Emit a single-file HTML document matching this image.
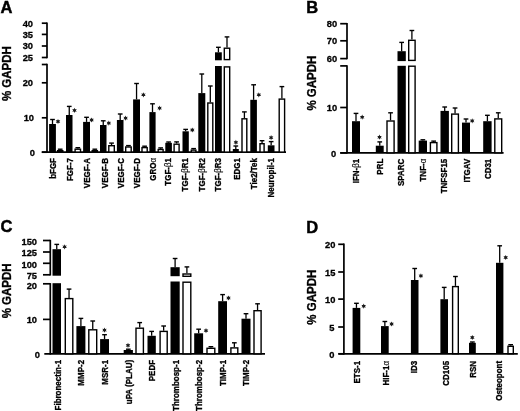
<!DOCTYPE html>
<html><head><meta charset="utf-8"><style>
html,body{margin:0;padding:0;background:#fff;width:520px;height:411px;overflow:hidden}
svg{display:block;filter:grayscale(100%)}
text{font-family:"Liberation Sans", sans-serif;fill:#000;stroke:#000;stroke-width:0.3px;paint-order:stroke}
line{stroke:#000}
</style></head><body>
<svg width="520" height="411" viewBox="0 0 520 411">
<rect width="520" height="411" fill="#fff"/>
<text x="0.40" y="13.20" font-size="16.5" text-anchor="start" font-weight="bold" style="stroke-width:0.45px">A</text>
<text transform="translate(11.30,73.60) rotate(-90) scale(1,1.12)" font-size="11.5" text-anchor="middle" font-weight="bold" >% GAPDH</text>
<line x1="47.00" y1="22.50" x2="47.00" y2="58.20" stroke-width="1.7"/>
<line x1="47.00" y1="63.80" x2="47.00" y2="152.90" stroke-width="1.7"/>
<line x1="41.80" y1="23.20" x2="47.00" y2="23.20" stroke-width="1.7"/>
<line x1="41.80" y1="34.40" x2="47.00" y2="34.40" stroke-width="1.7"/>
<line x1="41.80" y1="46.00" x2="47.00" y2="46.00" stroke-width="1.7"/>
<line x1="41.80" y1="57.50" x2="47.00" y2="57.50" stroke-width="1.7"/>
<line x1="41.80" y1="64.50" x2="47.00" y2="64.50" stroke-width="1.7"/>
<line x1="41.80" y1="82.80" x2="47.00" y2="82.80" stroke-width="1.7"/>
<line x1="41.80" y1="117.80" x2="47.00" y2="117.80" stroke-width="1.7"/>
<line x1="41.80" y1="152.20" x2="47.00" y2="152.20" stroke-width="1.7"/>
<line x1="41.80" y1="152.20" x2="286.00" y2="152.20" stroke-width="1.7"/>
<text x="33.00" y="26.55" font-size="9.3" text-anchor="end" font-weight="bold" >40</text>
<text x="33.00" y="37.75" font-size="9.3" text-anchor="end" font-weight="bold" >35</text>
<text x="33.00" y="49.35" font-size="9.3" text-anchor="end" font-weight="bold" >30</text>
<text x="33.00" y="60.85" font-size="9.3" text-anchor="end" font-weight="bold" >25</text>
<text x="33.00" y="86.35" font-size="9.3" text-anchor="end" font-weight="bold" >20</text>
<text x="34.00" y="121.15" font-size="9.3" text-anchor="end" font-weight="bold" >10</text>
<text x="34.80" y="155.55" font-size="9.3" text-anchor="end" font-weight="bold" >0</text>
<line x1="52.50" y1="119.50" x2="52.50" y2="124.00" stroke-width="1.3"/>
<line x1="50.15" y1="119.50" x2="54.85" y2="119.50" stroke-width="1.4"/>
<rect x="49.10" y="124.00" width="6.80" height="28.20" fill="#000"/>
<line x1="60.20" y1="149.20" x2="60.20" y2="150.00" stroke-width="1.3"/>
<line x1="57.85" y1="149.20" x2="62.55" y2="149.20" stroke-width="1.4"/>
<rect x="57.60" y="150.70" width="5.20" height="1.40" fill="#fff" stroke="#000" stroke-width="1.4"/>
<polygon points="58.00,118.90 58.65,120.37 60.25,120.20 59.30,121.50 60.25,122.80 58.65,122.63 58.00,124.10 57.35,122.63 55.75,122.80 56.70,121.50 55.75,120.20 57.35,120.37" fill="#1a1a1a"/>
<text transform="translate(56.22,158.00) rotate(-90) scale(1,1.1)" font-size="8.0" text-anchor="end" font-weight="bold" >bFGF</text>
<line x1="69.25" y1="106.40" x2="69.25" y2="115.00" stroke-width="1.3"/>
<line x1="66.90" y1="106.40" x2="71.60" y2="106.40" stroke-width="1.4"/>
<rect x="66.00" y="115.00" width="6.50" height="37.20" fill="#000"/>
<line x1="77.80" y1="147.70" x2="77.80" y2="148.50" stroke-width="1.3"/>
<line x1="75.45" y1="147.70" x2="80.15" y2="147.70" stroke-width="1.4"/>
<rect x="75.10" y="149.20" width="5.40" height="2.90" fill="#fff" stroke="#000" stroke-width="1.4"/>
<polygon points="74.50,107.80 75.15,109.27 76.75,109.10 75.80,110.40 76.75,111.70 75.15,111.53 74.50,113.00 73.85,111.53 72.25,111.70 73.20,110.40 72.25,109.10 73.85,109.27" fill="#1a1a1a"/>
<text transform="translate(72.92,158.00) rotate(-90) scale(1,1.1)" font-size="8.0" text-anchor="end" font-weight="bold" >FGF-7</text>
<line x1="86.55" y1="117.30" x2="86.55" y2="121.90" stroke-width="1.3"/>
<line x1="84.20" y1="117.30" x2="88.90" y2="117.30" stroke-width="1.4"/>
<rect x="83.10" y="121.90" width="6.90" height="30.30" fill="#000"/>
<line x1="94.80" y1="149.20" x2="94.80" y2="150.00" stroke-width="1.3"/>
<line x1="92.45" y1="149.20" x2="97.15" y2="149.20" stroke-width="1.4"/>
<rect x="92.20" y="150.70" width="5.20" height="1.40" fill="#fff" stroke="#000" stroke-width="1.4"/>
<polygon points="91.60,117.40 92.25,118.87 93.85,118.70 92.90,120.00 93.85,121.30 92.25,121.13 91.60,122.60 90.95,121.13 89.35,121.30 90.30,120.00 89.35,118.70 90.95,118.87" fill="#1a1a1a"/>
<text transform="translate(90.32,158.00) rotate(-90) scale(1,1.1)" font-size="8.0" text-anchor="end" font-weight="bold" >VEGF-A</text>
<line x1="103.25" y1="120.80" x2="103.25" y2="125.00" stroke-width="1.3"/>
<line x1="100.90" y1="120.80" x2="105.60" y2="120.80" stroke-width="1.4"/>
<rect x="100.00" y="125.00" width="6.50" height="27.20" fill="#000"/>
<line x1="111.55" y1="143.10" x2="111.55" y2="145.00" stroke-width="1.3"/>
<line x1="109.20" y1="143.10" x2="113.90" y2="143.10" stroke-width="1.4"/>
<rect x="108.80" y="145.70" width="5.50" height="6.40" fill="#fff" stroke="#000" stroke-width="1.4"/>
<polygon points="108.80,120.50 109.45,121.97 111.05,121.80 110.10,123.10 111.05,124.40 109.45,124.23 108.80,125.70 108.15,124.23 106.55,124.40 107.50,123.10 106.55,121.80 108.15,121.97" fill="#1a1a1a"/>
<text transform="translate(107.57,158.00) rotate(-90) scale(1,1.1)" font-size="8.0" text-anchor="end" font-weight="bold" >VEGF-B</text>
<line x1="120.20" y1="114.00" x2="120.20" y2="120.00" stroke-width="1.3"/>
<line x1="117.85" y1="114.00" x2="122.55" y2="114.00" stroke-width="1.4"/>
<rect x="116.90" y="120.00" width="6.60" height="32.20" fill="#000"/>
<line x1="128.45" y1="145.60" x2="128.45" y2="146.30" stroke-width="1.3"/>
<line x1="126.10" y1="145.60" x2="130.80" y2="145.60" stroke-width="1.4"/>
<rect x="125.70" y="147.00" width="5.50" height="5.10" fill="#fff" stroke="#000" stroke-width="1.4"/>
<polygon points="125.60,115.50 126.25,116.97 127.85,116.80 126.90,118.10 127.85,119.40 126.25,119.23 125.60,120.70 124.95,119.23 123.35,119.40 124.30,118.10 123.35,116.80 124.95,116.97" fill="#1a1a1a"/>
<text transform="translate(123.77,158.00) rotate(-90) scale(1,1.1)" font-size="8.0" text-anchor="end" font-weight="bold" >VEGF-C</text>
<line x1="136.55" y1="83.50" x2="136.55" y2="99.40" stroke-width="1.3"/>
<line x1="134.20" y1="83.50" x2="138.90" y2="83.50" stroke-width="1.4"/>
<rect x="133.10" y="99.40" width="6.90" height="52.80" fill="#000"/>
<line x1="144.60" y1="146.20" x2="144.60" y2="146.90" stroke-width="1.3"/>
<line x1="142.25" y1="146.20" x2="146.95" y2="146.20" stroke-width="1.4"/>
<rect x="142.00" y="147.60" width="5.20" height="4.50" fill="#fff" stroke="#000" stroke-width="1.4"/>
<polygon points="143.40,92.20 144.05,93.67 145.65,93.50 144.70,94.80 145.65,96.10 144.05,95.93 143.40,97.40 142.75,95.93 141.15,96.10 142.10,94.80 141.15,93.50 142.75,93.67" fill="#1a1a1a"/>
<text transform="translate(139.92,158.00) rotate(-90) scale(1,1.1)" font-size="8.0" text-anchor="end" font-weight="bold" >VEGF-D</text>
<line x1="152.50" y1="103.80" x2="152.50" y2="112.10" stroke-width="1.3"/>
<line x1="150.15" y1="103.80" x2="154.85" y2="103.80" stroke-width="1.4"/>
<rect x="149.40" y="112.10" width="6.20" height="40.10" fill="#000"/>
<line x1="160.65" y1="147.90" x2="160.65" y2="148.80" stroke-width="1.3"/>
<line x1="158.30" y1="147.90" x2="163.00" y2="147.90" stroke-width="1.4"/>
<rect x="158.20" y="149.50" width="4.90" height="2.60" fill="#fff" stroke="#000" stroke-width="1.4"/>
<polygon points="159.60,105.50 160.25,106.97 161.85,106.80 160.90,108.10 161.85,109.40 160.25,109.23 159.60,110.70 158.95,109.23 157.35,109.40 158.30,108.10 157.35,106.80 158.95,106.97" fill="#1a1a1a"/>
<text transform="translate(156.32,158.00) rotate(-90) scale(1,1.1)" font-size="8.0" text-anchor="end" font-weight="bold" >GRO<tspan font-weight="normal" style="stroke-width:0.15px">α</tspan></text>
<line x1="168.60" y1="142.00" x2="168.60" y2="142.80" stroke-width="1.3"/>
<line x1="166.25" y1="142.00" x2="170.95" y2="142.00" stroke-width="1.4"/>
<rect x="165.30" y="142.80" width="6.60" height="9.40" fill="#000"/>
<line x1="176.60" y1="141.90" x2="176.60" y2="143.50" stroke-width="1.3"/>
<line x1="174.25" y1="141.90" x2="178.95" y2="141.90" stroke-width="1.4"/>
<rect x="174.10" y="144.20" width="5.00" height="7.90" fill="#fff" stroke="#000" stroke-width="1.4"/>
<text transform="translate(171.28,158.00) rotate(-90) scale(1,1.1)" font-size="8.0" text-anchor="end" font-weight="bold" >TGF-<tspan font-weight="normal" style="stroke-width:0.15px">β</tspan>1</text>
<line x1="185.65" y1="129.40" x2="185.65" y2="131.30" stroke-width="1.3"/>
<line x1="183.30" y1="129.40" x2="188.00" y2="129.40" stroke-width="1.4"/>
<rect x="182.50" y="131.30" width="6.30" height="20.90" fill="#000"/>
<line x1="193.60" y1="148.60" x2="193.60" y2="149.40" stroke-width="1.3"/>
<line x1="191.25" y1="148.60" x2="195.95" y2="148.60" stroke-width="1.4"/>
<rect x="191.30" y="150.10" width="4.60" height="2.00" fill="#fff" stroke="#000" stroke-width="1.4"/>
<polygon points="192.30,127.40 192.95,128.87 194.55,128.70 193.60,130.00 194.55,131.30 192.95,131.13 192.30,132.60 191.65,131.13 190.05,131.30 191.00,130.00 190.05,128.70 191.65,128.87" fill="#1a1a1a"/>
<text transform="translate(188.48,158.00) rotate(-90) scale(1,1.1)" font-size="8.0" text-anchor="end" font-weight="bold" >TGF-<tspan font-weight="normal" style="stroke-width:0.15px">β</tspan>R1</text>
<line x1="201.80" y1="74.00" x2="201.80" y2="93.10" stroke-width="1.3"/>
<line x1="199.45" y1="74.00" x2="204.15" y2="74.00" stroke-width="1.4"/>
<rect x="198.30" y="93.10" width="7.00" height="59.10" fill="#000"/>
<line x1="210.30" y1="86.00" x2="210.30" y2="102.30" stroke-width="1.3"/>
<line x1="207.95" y1="86.00" x2="212.65" y2="86.00" stroke-width="1.4"/>
<rect x="207.80" y="103.00" width="5.00" height="49.10" fill="#fff" stroke="#000" stroke-width="1.4"/>
<text transform="translate(204.88,158.00) rotate(-90) scale(1,1.1)" font-size="8.0" text-anchor="end" font-weight="bold" >TGF-<tspan font-weight="normal" style="stroke-width:0.15px">β</tspan>R2</text>
<rect x="215.00" y="52.30" width="6.80" height="8.00" fill="#000"/>
<rect x="215.00" y="66.00" width="6.80" height="86.20" fill="#000"/>
<line x1="218.40" y1="47.30" x2="218.40" y2="52.30" stroke-width="1.3"/>
<line x1="216.05" y1="47.30" x2="220.75" y2="47.30" stroke-width="1.4"/>
<rect x="224.30" y="48.20" width="5.40" height="11.40" fill="#fff" stroke="#000" stroke-width="1.4"/>
<rect x="224.30" y="66.90" width="5.40" height="85.20" fill="#fff" stroke="#000" stroke-width="1.4"/>
<line x1="227.00" y1="36.90" x2="227.00" y2="47.50" stroke-width="1.3"/>
<line x1="224.65" y1="36.90" x2="229.35" y2="36.90" stroke-width="1.4"/>
<text transform="translate(221.38,158.00) rotate(-90) scale(1,1.1)" font-size="8.0" text-anchor="end" font-weight="bold" >TGF-<tspan font-weight="normal" style="stroke-width:0.15px">β</tspan>R3</text>
<line x1="235.80" y1="146.00" x2="235.80" y2="149.00" stroke-width="1.3"/>
<line x1="233.45" y1="146.00" x2="238.15" y2="146.00" stroke-width="1.4"/>
<rect x="232.80" y="149.00" width="6.00" height="3.20" fill="#000"/>
<line x1="244.40" y1="111.90" x2="244.40" y2="118.10" stroke-width="1.3"/>
<line x1="242.05" y1="111.90" x2="246.75" y2="111.90" stroke-width="1.4"/>
<rect x="242.00" y="118.80" width="4.80" height="33.30" fill="#fff" stroke="#000" stroke-width="1.4"/>
<polygon points="235.90,139.70 236.55,141.17 238.15,141.00 237.20,142.30 238.15,143.60 236.55,143.43 235.90,144.90 235.25,143.43 233.65,143.60 234.60,142.30 233.65,141.00 235.25,141.17" fill="#1a1a1a"/>
<text transform="translate(240.32,158.00) rotate(-90) scale(1,1.1)" font-size="8.0" text-anchor="end" font-weight="bold" >EDG1</text>
<line x1="253.60" y1="84.80" x2="253.60" y2="99.80" stroke-width="1.3"/>
<line x1="251.25" y1="84.80" x2="255.95" y2="84.80" stroke-width="1.4"/>
<rect x="250.30" y="99.80" width="6.60" height="52.40" fill="#000"/>
<line x1="262.05" y1="140.70" x2="262.05" y2="143.00" stroke-width="1.3"/>
<line x1="259.70" y1="140.70" x2="264.40" y2="140.70" stroke-width="1.4"/>
<rect x="260.00" y="143.70" width="4.10" height="8.40" fill="#fff" stroke="#000" stroke-width="1.4"/>
<polygon points="258.80,92.20 259.45,93.67 261.05,93.50 260.10,94.80 261.05,96.10 259.45,95.93 258.80,97.40 258.15,95.93 256.55,96.10 257.50,94.80 256.55,93.50 258.15,93.67" fill="#1a1a1a"/>
<text transform="translate(257.17,158.00) rotate(-90) scale(1,1.1)" font-size="8.0" text-anchor="end" font-weight="bold" >Tie2/Tek</text>
<line x1="271.15" y1="141.60" x2="271.15" y2="145.30" stroke-width="1.3"/>
<line x1="268.80" y1="141.60" x2="273.50" y2="141.60" stroke-width="1.4"/>
<rect x="267.80" y="145.30" width="6.70" height="6.90" fill="#000"/>
<line x1="281.90" y1="86.60" x2="281.90" y2="98.40" stroke-width="1.3"/>
<line x1="279.55" y1="86.60" x2="284.25" y2="86.60" stroke-width="1.4"/>
<rect x="279.20" y="99.10" width="5.40" height="53.00" fill="#fff" stroke="#000" stroke-width="1.4"/>
<polygon points="271.10,135.00 271.75,136.47 273.35,136.30 272.40,137.60 273.35,138.90 271.75,138.73 271.10,140.20 270.45,138.73 268.85,138.90 269.80,137.60 268.85,136.30 270.45,136.47" fill="#1a1a1a"/>
<text transform="translate(274.38,158.00) rotate(-90) scale(1,1.1)" font-size="8.0" text-anchor="end" font-weight="bold" >Neuropil-1</text>
<text x="306.20" y="13.30" font-size="16.5" text-anchor="start" font-weight="bold" style="stroke-width:0.45px">B</text>
<text transform="translate(315.90,83.10) rotate(-90) scale(1,1.12)" font-size="11.5" text-anchor="middle" font-weight="bold" >% GAPDH</text>
<line x1="347.00" y1="23.00" x2="347.00" y2="59.30" stroke-width="1.7"/>
<line x1="347.00" y1="65.20" x2="347.00" y2="153.60" stroke-width="1.7"/>
<line x1="340.20" y1="23.70" x2="347.00" y2="23.70" stroke-width="1.7"/>
<line x1="340.20" y1="40.80" x2="347.00" y2="40.80" stroke-width="1.7"/>
<line x1="340.20" y1="58.60" x2="347.00" y2="58.60" stroke-width="1.7"/>
<line x1="340.20" y1="65.90" x2="347.00" y2="65.90" stroke-width="1.7"/>
<line x1="340.20" y1="107.50" x2="347.00" y2="107.50" stroke-width="1.7"/>
<line x1="340.20" y1="152.90" x2="347.00" y2="152.90" stroke-width="1.7"/>
<line x1="340.30" y1="152.90" x2="503.60" y2="152.90" stroke-width="1.7"/>
<text x="337.10" y="27.05" font-size="9.3" text-anchor="end" font-weight="bold" >80</text>
<text x="337.10" y="44.15" font-size="9.3" text-anchor="end" font-weight="bold" >70</text>
<text x="337.10" y="61.95" font-size="9.3" text-anchor="end" font-weight="bold" >60</text>
<text x="337.10" y="110.85" font-size="9.3" text-anchor="end" font-weight="bold" >10</text>
<text x="336.20" y="156.65" font-size="9.3" text-anchor="end" font-weight="bold" >0</text>
<line x1="356.00" y1="113.40" x2="356.00" y2="121.20" stroke-width="1.3"/>
<line x1="353.65" y1="113.40" x2="358.35" y2="113.40" stroke-width="1.4"/>
<rect x="352.00" y="121.20" width="8.00" height="31.70" fill="#000"/>
<polygon points="362.20,114.60 362.85,116.07 364.45,115.90 363.50,117.20 364.45,118.50 362.85,118.33 362.20,119.80 361.55,118.33 359.95,118.50 360.90,117.20 359.95,115.90 361.55,116.07" fill="#1a1a1a"/>
<text transform="translate(358.73,158.70) rotate(-90) scale(1,1.1)" font-size="8.0" text-anchor="end" font-weight="bold" >IFN-<tspan font-weight="normal" style="stroke-width:0.15px">β</tspan>1</text>
<line x1="379.75" y1="141.90" x2="379.75" y2="145.70" stroke-width="1.3"/>
<line x1="377.40" y1="141.90" x2="382.10" y2="141.90" stroke-width="1.4"/>
<rect x="375.80" y="145.70" width="7.90" height="7.20" fill="#000"/>
<line x1="390.55" y1="112.80" x2="390.55" y2="120.30" stroke-width="1.3"/>
<line x1="388.20" y1="112.80" x2="392.90" y2="112.80" stroke-width="1.4"/>
<rect x="387.00" y="121.00" width="7.10" height="31.80" fill="#fff" stroke="#000" stroke-width="1.4"/>
<polygon points="379.50,134.60 380.15,136.07 381.75,135.90 380.80,137.20 381.75,138.50 380.15,138.33 379.50,139.80 378.85,138.33 377.25,138.50 378.20,137.20 377.25,135.90 378.85,136.07" fill="#1a1a1a"/>
<text transform="translate(383.07,158.70) rotate(-90) scale(1,1.1)" font-size="8.0" text-anchor="end" font-weight="bold" >PRL</text>
<rect x="397.50" y="51.20" width="8.30" height="9.90" fill="#000"/>
<rect x="397.50" y="65.80" width="8.30" height="87.10" fill="#000"/>
<line x1="401.65" y1="42.40" x2="401.65" y2="51.20" stroke-width="1.3"/>
<line x1="399.30" y1="42.40" x2="404.00" y2="42.40" stroke-width="1.4"/>
<rect x="408.70" y="40.30" width="6.40" height="20.10" fill="#fff" stroke="#000" stroke-width="1.4"/>
<rect x="408.70" y="66.20" width="6.40" height="86.60" fill="#fff" stroke="#000" stroke-width="1.4"/>
<line x1="411.90" y1="30.50" x2="411.90" y2="39.60" stroke-width="1.3"/>
<line x1="409.55" y1="30.50" x2="414.25" y2="30.50" stroke-width="1.4"/>
<text transform="translate(404.47,158.70) rotate(-90) scale(1,1.1)" font-size="8.0" text-anchor="end" font-weight="bold" >SPARC</text>
<line x1="422.85" y1="139.80" x2="422.85" y2="140.60" stroke-width="1.3"/>
<line x1="420.50" y1="139.80" x2="425.20" y2="139.80" stroke-width="1.4"/>
<rect x="418.70" y="140.60" width="8.30" height="12.30" fill="#000"/>
<line x1="433.65" y1="141.10" x2="433.65" y2="141.90" stroke-width="1.3"/>
<line x1="431.30" y1="141.10" x2="436.00" y2="141.10" stroke-width="1.4"/>
<rect x="430.40" y="142.60" width="6.50" height="10.20" fill="#fff" stroke="#000" stroke-width="1.4"/>
<text transform="translate(426.27,158.70) rotate(-90) scale(1,1.1)" font-size="8.0" text-anchor="end" font-weight="bold" >TNF-<tspan font-weight="normal" style="stroke-width:0.15px">α</tspan></text>
<line x1="444.70" y1="107.00" x2="444.70" y2="110.90" stroke-width="1.3"/>
<line x1="442.35" y1="107.00" x2="447.05" y2="107.00" stroke-width="1.4"/>
<rect x="440.50" y="110.90" width="8.40" height="42.00" fill="#000"/>
<line x1="455.05" y1="108.00" x2="455.05" y2="113.40" stroke-width="1.3"/>
<line x1="452.70" y1="108.00" x2="457.40" y2="108.00" stroke-width="1.4"/>
<rect x="451.70" y="114.10" width="6.70" height="38.70" fill="#fff" stroke="#000" stroke-width="1.4"/>
<text transform="translate(447.47,158.70) rotate(-90) scale(1,1.1)" font-size="8.0" text-anchor="end" font-weight="bold" >TNFSF15</text>
<line x1="466.00" y1="119.00" x2="466.00" y2="122.60" stroke-width="1.3"/>
<line x1="463.65" y1="119.00" x2="468.35" y2="119.00" stroke-width="1.4"/>
<rect x="462.00" y="122.60" width="8.00" height="30.30" fill="#000"/>
<polygon points="472.20,118.30 472.85,119.77 474.45,119.60 473.50,120.90 474.45,122.20 472.85,122.03 472.20,123.50 471.55,122.03 469.95,122.20 470.90,120.90 469.95,119.60 471.55,119.77" fill="#1a1a1a"/>
<text transform="translate(469.57,158.70) rotate(-90) scale(1,1.1)" font-size="8.0" text-anchor="end" font-weight="bold" >ITGAV</text>
<line x1="487.40" y1="115.30" x2="487.40" y2="121.20" stroke-width="1.3"/>
<line x1="485.05" y1="115.30" x2="489.75" y2="115.30" stroke-width="1.4"/>
<rect x="483.20" y="121.20" width="8.40" height="31.70" fill="#000"/>
<line x1="498.25" y1="112.80" x2="498.25" y2="118.20" stroke-width="1.3"/>
<line x1="495.90" y1="112.80" x2="500.60" y2="112.80" stroke-width="1.4"/>
<rect x="494.80" y="118.90" width="6.90" height="33.90" fill="#fff" stroke="#000" stroke-width="1.4"/>
<text transform="translate(490.72,158.70) rotate(-90) scale(1,1.1)" font-size="8.0" text-anchor="end" font-weight="bold" >CD31</text>
<text x="0.60" y="231.60" font-size="16.5" text-anchor="start" font-weight="bold" style="stroke-width:0.45px">C</text>
<text transform="translate(10.50,290.90) rotate(-90) scale(1,1.12)" font-size="11.5" text-anchor="middle" font-weight="bold" >% GAPDH</text>
<line x1="50.30" y1="239.80" x2="50.30" y2="275.50" stroke-width="1.7"/>
<line x1="50.30" y1="283.10" x2="50.30" y2="354.60" stroke-width="1.7"/>
<line x1="43.00" y1="240.50" x2="50.30" y2="240.50" stroke-width="1.7"/>
<line x1="43.00" y1="252.00" x2="50.30" y2="252.00" stroke-width="1.7"/>
<line x1="43.00" y1="263.30" x2="50.30" y2="263.30" stroke-width="1.7"/>
<line x1="43.00" y1="274.80" x2="50.30" y2="274.80" stroke-width="1.7"/>
<line x1="43.00" y1="283.80" x2="50.30" y2="283.80" stroke-width="1.7"/>
<line x1="43.00" y1="319.40" x2="50.30" y2="319.40" stroke-width="1.7"/>
<line x1="44.30" y1="353.90" x2="265.00" y2="353.90" stroke-width="1.7"/>
<text x="37.00" y="244.85" font-size="9.3" text-anchor="end" font-weight="bold" >150</text>
<text x="37.00" y="256.35" font-size="9.3" text-anchor="end" font-weight="bold" >125</text>
<text x="37.00" y="267.75" font-size="9.3" text-anchor="end" font-weight="bold" >100</text>
<text x="37.00" y="279.15" font-size="9.3" text-anchor="end" font-weight="bold" >75</text>
<text x="37.00" y="289.25" font-size="9.3" text-anchor="end" font-weight="bold" >20</text>
<text x="37.00" y="323.25" font-size="9.3" text-anchor="end" font-weight="bold" >10</text>
<text x="39.80" y="357.65" font-size="9.3" text-anchor="end" font-weight="bold" >0</text>
<rect x="52.50" y="249.20" width="8.50" height="26.50" fill="#000"/>
<rect x="52.50" y="283.20" width="8.50" height="70.70" fill="#000"/>
<line x1="56.75" y1="244.40" x2="56.75" y2="249.20" stroke-width="1.3"/>
<line x1="54.40" y1="244.40" x2="59.10" y2="244.40" stroke-width="1.4"/>
<line x1="69.05" y1="289.10" x2="69.05" y2="297.90" stroke-width="1.3"/>
<line x1="66.70" y1="289.10" x2="71.40" y2="289.10" stroke-width="1.4"/>
<rect x="65.30" y="298.60" width="7.50" height="55.20" fill="#fff" stroke="#000" stroke-width="1.4"/>
<polygon points="64.60,244.20 65.25,245.67 66.85,245.50 65.90,246.80 66.85,248.10 65.25,247.93 64.60,249.40 63.95,247.93 62.35,248.10 63.30,246.80 62.35,245.50 63.95,245.67" fill="#1a1a1a"/>
<text transform="translate(61.27,359.90) rotate(-90) scale(1,1.1)" font-size="8.0" text-anchor="end" font-weight="bold" >Fibronectin-1</text>
<line x1="80.90" y1="318.40" x2="80.90" y2="326.10" stroke-width="1.3"/>
<line x1="78.55" y1="318.40" x2="83.25" y2="318.40" stroke-width="1.4"/>
<rect x="76.40" y="326.10" width="9.00" height="27.80" fill="#000"/>
<line x1="92.75" y1="321.00" x2="92.75" y2="329.10" stroke-width="1.3"/>
<line x1="90.40" y1="321.00" x2="95.10" y2="321.00" stroke-width="1.4"/>
<rect x="88.80" y="329.80" width="7.90" height="24.00" fill="#fff" stroke="#000" stroke-width="1.4"/>
<text transform="translate(84.02,359.90) rotate(-90) scale(1,1.1)" font-size="8.0" text-anchor="end" font-weight="bold" >MMP-2</text>
<line x1="104.55" y1="334.70" x2="104.55" y2="339.10" stroke-width="1.3"/>
<line x1="102.20" y1="334.70" x2="106.90" y2="334.70" stroke-width="1.4"/>
<rect x="100.10" y="339.10" width="8.90" height="14.80" fill="#000"/>
<polygon points="104.50,327.50 105.15,328.97 106.75,328.80 105.80,330.10 106.75,331.40 105.15,331.23 104.50,332.70 103.85,331.23 102.25,331.40 103.20,330.10 102.25,328.80 103.85,328.97" fill="#1a1a1a"/>
<text transform="translate(108.07,359.90) rotate(-90) scale(1,1.1)" font-size="8.0" text-anchor="end" font-weight="bold" >MSR-1</text>
<line x1="128.30" y1="349.20" x2="128.30" y2="350.00" stroke-width="1.3"/>
<line x1="125.95" y1="349.20" x2="130.65" y2="349.20" stroke-width="1.4"/>
<rect x="123.70" y="350.00" width="9.20" height="3.90" fill="#000"/>
<line x1="139.70" y1="322.60" x2="139.70" y2="327.50" stroke-width="1.3"/>
<line x1="137.35" y1="322.60" x2="142.05" y2="322.60" stroke-width="1.4"/>
<rect x="136.00" y="328.20" width="7.40" height="25.60" fill="#fff" stroke="#000" stroke-width="1.4"/>
<polygon points="128.00,342.80 128.65,344.27 130.25,344.10 129.30,345.40 130.25,346.70 128.65,346.53 128.00,348.00 127.35,346.53 125.75,346.70 126.70,345.40 125.75,344.10 127.35,344.27" fill="#1a1a1a"/>
<text transform="translate(131.78,359.90) rotate(-90) scale(1,1.1)" font-size="8.0" text-anchor="end" font-weight="bold" >uPA (PLAU)</text>
<line x1="151.65" y1="331.40" x2="151.65" y2="335.80" stroke-width="1.3"/>
<line x1="149.30" y1="331.40" x2="154.00" y2="331.40" stroke-width="1.4"/>
<rect x="147.50" y="335.80" width="8.30" height="18.10" fill="#000"/>
<line x1="163.65" y1="326.00" x2="163.65" y2="330.70" stroke-width="1.3"/>
<line x1="161.30" y1="326.00" x2="166.00" y2="326.00" stroke-width="1.4"/>
<rect x="160.10" y="331.40" width="7.10" height="22.40" fill="#fff" stroke="#000" stroke-width="1.4"/>
<text transform="translate(154.92,359.90) rotate(-90) scale(1,1.1)" font-size="8.0" text-anchor="end" font-weight="bold" >PEDF</text>
<rect x="170.50" y="267.20" width="9.20" height="9.00" fill="#000"/>
<rect x="170.50" y="281.50" width="9.20" height="72.40" fill="#000"/>
<line x1="175.10" y1="258.50" x2="175.10" y2="267.20" stroke-width="1.3"/>
<line x1="172.75" y1="258.50" x2="177.45" y2="258.50" stroke-width="1.4"/>
<rect x="183.00" y="274.00" width="7.80" height="2.30" fill="#fff" stroke="#000" stroke-width="1.4"/>
<rect x="183.00" y="282.20" width="7.80" height="71.60" fill="#fff" stroke="#000" stroke-width="1.4"/>
<line x1="186.90" y1="266.90" x2="186.90" y2="273.30" stroke-width="1.3"/>
<line x1="184.55" y1="266.90" x2="189.25" y2="266.90" stroke-width="1.4"/>
<text transform="translate(179.43,359.90) rotate(-90) scale(1,1.1)" font-size="8.0" text-anchor="end" font-weight="bold" >Thrombosp-1</text>
<line x1="198.65" y1="329.20" x2="198.65" y2="333.30" stroke-width="1.3"/>
<line x1="196.30" y1="329.20" x2="201.00" y2="329.20" stroke-width="1.4"/>
<rect x="194.20" y="333.30" width="8.90" height="20.60" fill="#000"/>
<line x1="210.90" y1="346.70" x2="210.90" y2="347.60" stroke-width="1.3"/>
<line x1="208.55" y1="346.70" x2="213.25" y2="346.70" stroke-width="1.4"/>
<rect x="207.00" y="348.30" width="7.80" height="5.50" fill="#fff" stroke="#000" stroke-width="1.4"/>
<polygon points="206.00,328.10 206.65,329.57 208.25,329.40 207.30,330.70 208.25,332.00 206.65,331.83 206.00,333.30 205.35,331.83 203.75,332.00 204.70,330.70 203.75,329.40 205.35,329.57" fill="#1a1a1a"/>
<text transform="translate(201.53,359.90) rotate(-90) scale(1,1.1)" font-size="8.0" text-anchor="end" font-weight="bold" >Thrombosp-2</text>
<line x1="222.60" y1="294.60" x2="222.60" y2="301.20" stroke-width="1.3"/>
<line x1="220.25" y1="294.60" x2="224.95" y2="294.60" stroke-width="1.4"/>
<rect x="218.20" y="301.20" width="8.80" height="52.70" fill="#000"/>
<line x1="234.35" y1="342.80" x2="234.35" y2="347.20" stroke-width="1.3"/>
<line x1="232.00" y1="342.80" x2="236.70" y2="342.80" stroke-width="1.4"/>
<rect x="230.90" y="347.90" width="6.90" height="5.90" fill="#fff" stroke="#000" stroke-width="1.4"/>
<polygon points="228.50,295.40 229.15,296.87 230.75,296.70 229.80,298.00 230.75,299.30 229.15,299.13 228.50,300.60 227.85,299.13 226.25,299.30 227.20,298.00 226.25,296.70 227.85,296.87" fill="#1a1a1a"/>
<text transform="translate(226.02,359.90) rotate(-90) scale(1,1.1)" font-size="8.0" text-anchor="end" font-weight="bold" >TIMP-1</text>
<line x1="246.00" y1="313.70" x2="246.00" y2="318.70" stroke-width="1.3"/>
<line x1="243.65" y1="313.70" x2="248.35" y2="313.70" stroke-width="1.4"/>
<rect x="241.50" y="318.70" width="9.00" height="35.20" fill="#000"/>
<line x1="257.55" y1="303.80" x2="257.55" y2="310.00" stroke-width="1.3"/>
<line x1="255.20" y1="303.80" x2="259.90" y2="303.80" stroke-width="1.4"/>
<rect x="254.00" y="310.70" width="7.10" height="43.10" fill="#fff" stroke="#000" stroke-width="1.4"/>
<text transform="translate(248.62,359.90) rotate(-90) scale(1,1.1)" font-size="8.0" text-anchor="end" font-weight="bold" >TIMP-2</text>
<text x="306.20" y="233.00" font-size="16.5" text-anchor="start" font-weight="bold" style="stroke-width:0.45px">D</text>
<text transform="translate(316.00,297.20) rotate(-90) scale(1,1.12)" font-size="11.5" text-anchor="middle" font-weight="bold" >% GAPDH</text>
<line x1="343.90" y1="243.60" x2="343.90" y2="354.50" stroke-width="1.7"/>
<line x1="338.20" y1="244.30" x2="343.90" y2="244.30" stroke-width="1.7"/>
<line x1="338.20" y1="272.00" x2="343.90" y2="272.00" stroke-width="1.7"/>
<line x1="338.20" y1="299.10" x2="343.90" y2="299.10" stroke-width="1.7"/>
<line x1="338.20" y1="327.00" x2="343.90" y2="327.00" stroke-width="1.7"/>
<line x1="338.20" y1="353.80" x2="343.90" y2="353.80" stroke-width="1.7"/>
<line x1="338.50" y1="353.80" x2="517.80" y2="353.80" stroke-width="1.7"/>
<text x="335.40" y="247.85" font-size="9.3" text-anchor="end" font-weight="bold" >20</text>
<text x="335.40" y="275.65" font-size="9.3" text-anchor="end" font-weight="bold" >15</text>
<text x="335.40" y="302.65" font-size="9.3" text-anchor="end" font-weight="bold" >10</text>
<text x="334.30" y="330.65" font-size="9.3" text-anchor="end" font-weight="bold" >5</text>
<text x="334.30" y="357.65" font-size="9.3" text-anchor="end" font-weight="bold" >0</text>
<line x1="356.45" y1="303.30" x2="356.45" y2="307.90" stroke-width="1.3"/>
<line x1="354.10" y1="303.30" x2="358.80" y2="303.30" stroke-width="1.4"/>
<rect x="352.60" y="307.90" width="7.70" height="45.90" fill="#000"/>
<polygon points="363.70,303.60 364.35,305.07 365.95,304.90 365.00,306.20 365.95,307.50 364.35,307.33 363.70,308.80 363.05,307.33 361.45,307.50 362.40,306.20 361.45,304.90 363.05,305.07" fill="#1a1a1a"/>
<text transform="translate(359.62,360.90) rotate(-90) scale(1,1.1)" font-size="8.0" text-anchor="end" font-weight="bold" >ETS-1</text>
<line x1="384.85" y1="321.50" x2="384.85" y2="326.10" stroke-width="1.3"/>
<line x1="382.50" y1="321.50" x2="387.20" y2="321.50" stroke-width="1.4"/>
<rect x="381.00" y="326.10" width="7.70" height="27.70" fill="#000"/>
<polygon points="391.60,321.40 392.25,322.87 393.85,322.70 392.90,324.00 393.85,325.30 392.25,325.13 391.60,326.60 390.95,325.13 389.35,325.30 390.30,324.00 389.35,322.70 390.95,322.87" fill="#1a1a1a"/>
<text transform="translate(389.47,360.90) rotate(-90) scale(1,1.1)" font-size="8.0" text-anchor="end" font-weight="bold" >HIF-1<tspan font-weight="normal" style="stroke-width:0.15px">α</tspan></text>
<line x1="414.70" y1="268.50" x2="414.70" y2="280.00" stroke-width="1.3"/>
<line x1="412.35" y1="268.50" x2="417.05" y2="268.50" stroke-width="1.4"/>
<rect x="410.90" y="280.00" width="7.60" height="73.80" fill="#000"/>
<polygon points="420.90,273.30 421.55,274.77 423.15,274.60 422.20,275.90 423.15,277.20 421.55,277.03 420.90,278.50 420.25,277.03 418.65,277.20 419.60,275.90 418.65,274.60 420.25,274.77" fill="#1a1a1a"/>
<text transform="translate(417.17,360.90) rotate(-90) scale(1,1.1)" font-size="8.0" text-anchor="end" font-weight="bold" >ID3</text>
<line x1="444.20" y1="287.40" x2="444.20" y2="299.20" stroke-width="1.3"/>
<line x1="441.85" y1="287.40" x2="446.55" y2="287.40" stroke-width="1.4"/>
<rect x="440.40" y="299.20" width="7.60" height="54.60" fill="#000"/>
<line x1="455.45" y1="276.50" x2="455.45" y2="285.90" stroke-width="1.3"/>
<line x1="453.10" y1="276.50" x2="457.80" y2="276.50" stroke-width="1.4"/>
<rect x="452.60" y="286.60" width="5.70" height="67.10" fill="#fff" stroke="#000" stroke-width="1.4"/>
<text transform="translate(448.57,360.90) rotate(-90) scale(1,1.1)" font-size="8.0" text-anchor="end" font-weight="bold" >CD105</text>
<line x1="472.40" y1="342.00" x2="472.40" y2="342.80" stroke-width="1.3"/>
<line x1="470.05" y1="342.00" x2="474.75" y2="342.00" stroke-width="1.4"/>
<rect x="469.00" y="342.80" width="6.80" height="11.00" fill="#000"/>
<polygon points="472.30,334.90 472.95,336.37 474.55,336.20 473.60,337.50 474.55,338.80 472.95,338.63 472.30,340.10 471.65,338.63 470.05,338.80 471.00,337.50 470.05,336.20 471.65,336.37" fill="#1a1a1a"/>
<text transform="translate(476.32,360.90) rotate(-90) scale(1,1.1)" font-size="8.0" text-anchor="end" font-weight="bold" >RSN</text>
<line x1="499.70" y1="245.80" x2="499.70" y2="262.80" stroke-width="1.3"/>
<line x1="497.35" y1="245.80" x2="502.05" y2="245.80" stroke-width="1.4"/>
<rect x="496.00" y="262.80" width="7.40" height="91.00" fill="#000"/>
<line x1="510.65" y1="344.70" x2="510.65" y2="345.60" stroke-width="1.3"/>
<line x1="508.30" y1="344.70" x2="513.00" y2="344.70" stroke-width="1.4"/>
<rect x="508.00" y="346.30" width="5.30" height="7.40" fill="#fff" stroke="#000" stroke-width="1.4"/>
<polygon points="505.70,254.90 506.35,256.37 507.95,256.20 507.00,257.50 507.95,258.80 506.35,258.63 505.70,260.10 505.05,258.63 503.45,258.80 504.40,257.50 503.45,256.20 505.05,256.37" fill="#1a1a1a"/>
<text transform="translate(502.28,360.90) rotate(-90) scale(1,1.1)" font-size="8.0" text-anchor="end" font-weight="bold" >Osteopont</text>
</svg>
</body></html>
